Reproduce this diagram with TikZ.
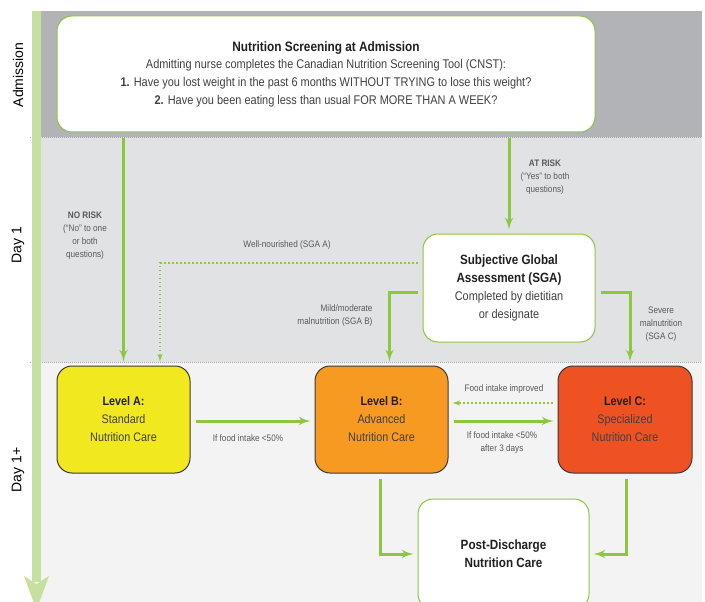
\documentclass[tikz,border=0pt]{standalone}
\usepackage{fontspec}
\setmainfont{Liberation Sans}[FakeStretch=0.87]
\newfontfamily\axisfont{Liberation Sans}
\usetikzlibrary{arrows, positioning}

\definecolor{flowgreen}{HTML}{8DC63F}
\definecolor{bargreen}{HTML}{C5E09F}
\definecolor{bandadm}{HTML}{B1B3B6}
\definecolor{bandday}{HTML}{E1E2E4}
\definecolor{bandlater}{HTML}{F3F3F3}
\definecolor{boxline}{HTML}{3A3A3A}
\definecolor{titletext}{HTML}{231F20}
\definecolor{bodytext}{HTML}{414042}
\definecolor{notetext}{HTML}{58595B}
\definecolor{levelA}{HTML}{F2E81F}
\definecolor{levelB}{HTML}{F79A22}
\definecolor{levelC}{HTML}{EE5122}

\begin{document}
\begin{tikzpicture}[x=1pt, y=-1pt]
		\tikzset{
			whitebox/.style={rectangle, rounded corners=15pt, draw=flowgreen, fill=white, line width=1pt, align=center, text=bodytext, font=\fontsize{12.6}{17.7}\selectfont},
			carebox/.style={rectangle, rounded corners=15pt, draw=boxline, line width=1pt, minimum width=133pt, minimum height=107pt, align=center, text=bodytext, font=\fontsize{12.4}{18}\selectfont},
			flow/.style={->, >=latex', draw=flowgreen, line width=3pt, shorten >=4pt},
			backflow/.style={->, >=latex', draw=flowgreen, line width=1.5pt, dash pattern=on 1.5pt off 2.5pt, shorten >=4pt},
			note/.style={text=notetext, align=center, font=\fontsize{9.4}{13}\selectfont},
			phase/.style={rotate=90, text=black, font=\axisfont\fontsize{14}{14}\selectfont},
			separator/.style={draw=gray!70, line width=0.5pt, dash pattern=on 1pt off 1pt}
		}
		\clip (0,0) rectangle (705,602);
		\fill[white] (0,0) rectangle (705,602);

		% time bands
		\fill[bandadm] (41,11) rectangle (702,137);
		\fill[bandday] (41,137) rectangle (702,362);
		\fill[bandlater] (41,362) rectangle (702,602);
		\draw[separator] (30,137) -- (702,137);
		\draw[separator] (30,362) -- (702,362);

		% time axis
		\fill[bargreen] (32,11) rectangle (41,582);
		\fill[bargreen] (24,576) -- (36.5,584) -- (49,576) -- (36.5,610) -- cycle;
		\node[phase] (admission) at (18,75) {Admission};
		\node[phase] (dayone) at (18,245) {Day 1};
		\node[phase] (daylater) at (18,470) {Day 1+};

		% boxes
		\node[whitebox, minimum width=538pt, minimum height=116pt] (screen) at (326,74)
			{{\fontsize{13.6}{17.7}\selectfont\bfseries\color{titletext}Nutrition Screening at Admission}\\
			Admitting nurse completes the Canadian Nutrition Screening Tool (CNST):\\
			\textbf{1.} Have you lost weight in the past 6 months WITHOUT TRYING to lose this weight?\\
			\textbf{2.} Have you been eating less than usual FOR MORE THAN A WEEK?};
		\node[whitebox, minimum width=172pt, minimum height=108pt] (sga) at (509,288)
			{{\fontsize{13.4}{17.7}\selectfont\bfseries\color{titletext}Subjective Global}\\
			{\fontsize{13.4}{17.7}\selectfont\bfseries\color{titletext}Assessment (SGA)}\\
			Completed by dietitian\\
			or designate};
		\node[carebox, fill=levelA] (levA) at (123.5,419.5)
			{\textbf{\color{titletext}Level A:}\\Standard\\Nutrition Care};
		\node[carebox, fill=levelB] (levB) at (381.5,419.5)
			{\textbf{\color{titletext}Level B:}\\Advanced\\Nutrition Care};
		\node[carebox, fill=levelC, minimum width=134pt] (levC) at (625,419.5)
			{\textbf{\color{titletext}Level C:}\\Specialized\\Nutrition Care};
		\node[whitebox, minimum width=171pt, minimum height=110pt, text=titletext, font=\fontsize{13.4}{18}\selectfont\bfseries] (post) at (503.5,554)
			{Post-Discharge\\Nutrition Care};

		% connectors
		\draw[flow, shorten <=5pt] (levA.north |- screen.south) -- (levA.north);
		\draw[flow, shorten <=5pt] (sga.north |- screen.south) -- (sga.north);
		\draw[backflow, shorten <=5pt] ([yshift=25pt]sga.west) -| ([xshift=36.5pt]levA.north);
		\draw[flow, shorten <=5pt] ([yshift=-4pt]sga.west) -| ([xshift=8pt]levB.north);
		\draw[flow, shorten <=5pt] ([yshift=-4pt]sga.east) -| ([xshift=5pt]levC.north);
		\draw[flow, shorten <=5pt] ([yshift=-1.5pt]levA.east) -- ([yshift=-1.5pt]levB.west);
		\draw[flow, shorten <=5pt] ([yshift=-1.5pt]levB.east) -- ([yshift=-1.5pt]levC.west);
		\draw[backflow, shorten <=5pt] ([yshift=16.5pt]levC.west) -- ([yshift=16.5pt]levB.west -| levB.east);
		\draw[flow, shorten <=5pt] ([xshift=-1.5pt]levB.south) |- (post.west);
		\draw[flow, shorten <=5pt] ([xshift=1pt]levC.south) |- (post.east);

		% connector labels
		\node[note] (norisk) at (85,236) {\textbf{NO RISK}\\(``No'' to one\\or both\\questions)};
		\node[note] (atrisk) at (545,177) {\textbf{AT RISK}\\(``Yes'' to both\\questions)};
		\node[note] (wellfed) at (287,245) {Well-nourished (SGA A)};
		\node[note, align=right, anchor=east] (moderate) at (376,315.5) {Mild/moderate\\malnutrition (SGA B)};
		\node[note] (severe) at (661,324) {Severe\\malnutrition\\(SGA C)};
		\node[note] (lowintake) at (248,438) {If food intake <50\%};
		\node[note] (stilllow) at (502,442.5) {If food intake <50\%\\after 3 days};
		\node[note] (improved) at (504,389) {Food intake improved};
	\end{tikzpicture}
\end{document}
